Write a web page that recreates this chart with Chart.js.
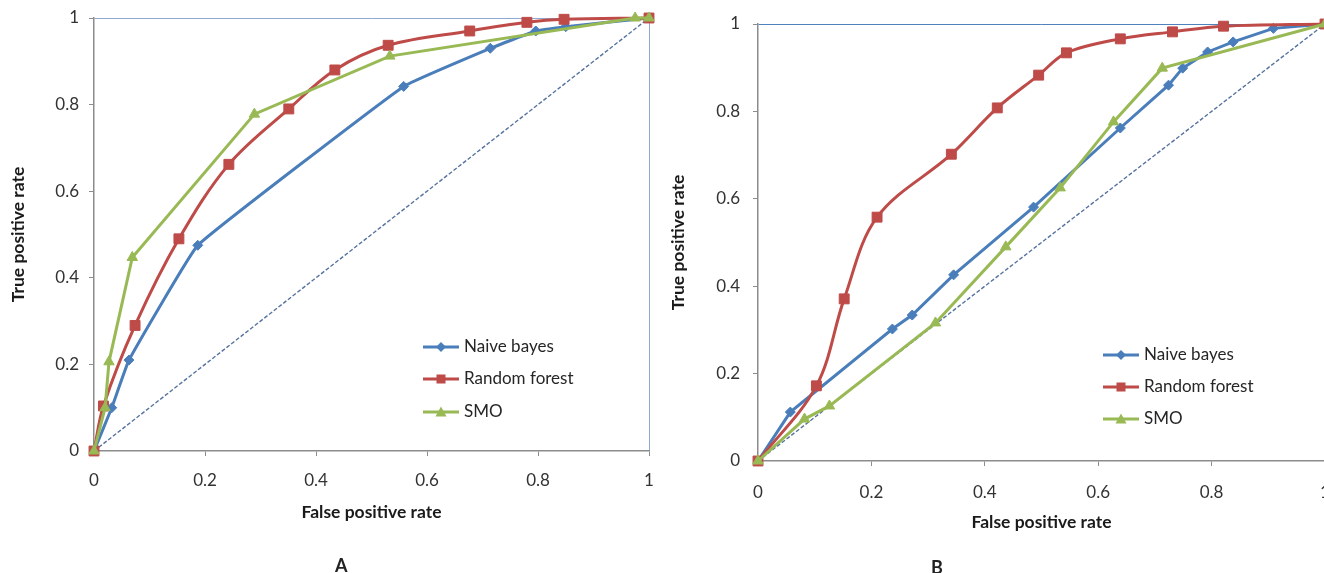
<!DOCTYPE html>
<html>
<head>
<meta charset="utf-8">
<script src="https://cdn.jsdelivr.net/npm/chart.js@4.4.1/dist/chart.umd.min.js"></script>
<style>
html, body { margin: 0; padding: 0; background: #fff; overflow: hidden; width: 1324px; height: 573px; }
canvas { position: absolute; top: 0; }
#chartA { left: 0; }
#chartB { left: 664px; }
.legend-item { position: absolute; height: 20px; line-height: 20px; font: 17px Lato, sans-serif; color: #262626; white-space: nowrap; }
.legend-item svg { vertical-align: middle; margin-right: 5px; position: relative; top: -1px; }
.panel-label { position: absolute; font: bold 18px Lato, sans-serif; color: #222; }
</style>
</head>
<body>
<canvas id="chartA" width="660" height="573"></canvas>
<canvas id="chartB" width="670" height="573"></canvas>
<div id="legendA"></div>
<div id="legendB"></div>
<div class="panel-label" style="left:335px;top:554px">A</div>
<div class="panel-label" style="left:931px;top:556px">B</div>
<script>
'use strict';

const seriesNames = ['Naive bayes', 'Random forest', 'SMO'];
const seriesColors = ['#4A7EBB', '#BE4B48', '#98B954'];
const axisTicks = [0, 0.2, 0.4, 0.6, 0.8, 1];

// panel A
const fprNaiveA = [0, 0.032, 0.063, 0.187, 0.558, 0.714, 0.796, 0.85, 1];
const tprNaiveA = [0, 0.10, 0.21, 0.475, 0.842, 0.93, 0.97, 0.98, 1];
const fprForestA = [0, 0.017, 0.074, 0.153, 0.243, 0.351, 0.434, 0.53, 0.677, 0.78, 0.847, 1];
const tprForestA = [0, 0.104, 0.29, 0.49, 0.662, 0.79, 0.88, 0.937, 0.97, 0.99, 0.997, 1];
const fprSmoA = [0, 0.02, 0.027, 0.069, 0.289, 0.533, 0.975, 1];
const tprSmoA = [0, 0.10, 0.206, 0.447, 0.778, 0.912, 1, 1];

// panel B
const fprNaiveB = [0, 0.057, 0.237, 0.272, 0.345, 0.486, 0.639, 0.724, 0.749, 0.793, 0.838, 0.909, 1];
const tprNaiveB = [0, 0.112, 0.302, 0.334, 0.426, 0.581, 0.762, 0.86, 0.899, 0.936, 0.959, 0.99, 1];
const fprForestB = [0, 0.103, 0.152, 0.21, 0.341, 0.422, 0.495, 0.544, 0.639, 0.731, 0.821, 1];
const tprForestB = [0, 0.172, 0.371, 0.558, 0.702, 0.808, 0.883, 0.934, 0.966, 0.982, 0.995, 1];
const fprSmoB = [0, 0.082, 0.126, 0.313, 0.437, 0.533, 0.627, 0.713, 1];
const tprSmoB = [0, 0.096, 0.126, 0.316, 0.49, 0.625, 0.776, 0.899, 1];

// chance line
const fprChance = [0, 1];
const tprChance = [0, 1];

function pts(xs, ys) {
    return xs.map((x, i) => ({ x: x, y: ys[i] }));
}

function rocSet(idx, data, style, tension, order) {
    const radius = [5, 7, 6][idx];
    return {
        label: seriesNames[idx],
        data: data,
        borderColor: seriesColors[idx],
        backgroundColor: seriesColors[idx],
        borderWidth: 3,
        pointStyle: style,
        pointRadius: radius,
        pointBorderWidth: 1,
        tension: tension,
        clip: false,
        order: order
    };
}

function makeChart(id, sets, box) {
    const ctx = document.getElementById(id).getContext('2d');
    const tickFont = { family: 'Lato', size: 17 };
    const titleFont = { family: 'Lato', size: 17.5, weight: 'bold' };
    new Chart(ctx, {
        type: 'line',
        data: {
            datasets: sets.concat([{
                label: 'chance',
                data: pts(fprChance, tprChance),
                borderColor: '#56739F',
                borderWidth: 1.4,
                borderDash: [4, 2],
                pointRadius: 0,
                clip: false,
                order: 9
            }])
        },
        options: {
            responsive: false,
            animation: false,
            layout: { padding: box.padding },
            plugins: { legend: { display: false }, tooltip: { enabled: false } },
            scales: {
                x: {
                    type: 'linear',
                    min: 0,
                    max: 1,
                    afterBuildTicks: s => { s.ticks = axisTicks.map(v => ({ value: v })); },
                    afterFit: s => {
                        s.height = box.xHeight;
                        s.paddingLeft = s.paddingRight = s.paddingTop = s.paddingBottom = 0;
                    },
                    grid: {
                        drawOnChartArea: true,
                        color: c => (c.tick && c.tick.value === 1) ? box.frameColor : 'rgba(0,0,0,0)',
                        tickColor: '#8C8C8C',
                        tickLength: 5
                    },
                    border: { color: '#8C8C8C', width: 1.5 },
                    ticks: { color: '#333', font: tickFont, padding: box.xPad, maxRotation: 0, callback: v => String(v) },
                    title: { display: true, text: 'False positive rate', color: '#1a1a1a', font: titleFont, padding: 0 }
                },
                y: {
                    type: 'linear',
                    min: 0,
                    max: 1,
                    afterBuildTicks: s => { s.ticks = axisTicks.map(v => ({ value: v })); },
                    afterFit: s => {
                        s.width = box.yWidth;
                        s.paddingLeft = s.paddingRight = s.paddingTop = s.paddingBottom = 0;
                    },
                    grid: {
                        drawOnChartArea: true,
                        color: c => (c.tick && c.tick.value === 1) ? box.topColor : 'rgba(0,0,0,0)',
                        tickColor: '#8C8C8C',
                        tickLength: 5
                    },
                    border: { color: '#8C8C8C', width: 1.5 },
                    ticks: { color: '#333', font: tickFont, padding: box.yPad, callback: v => String(v) },
                    title: { display: true, text: 'True positive rate', color: '#1a1a1a', font: titleFont, padding: 0 }
                }
            }
        }
    });
}

makeChart('chartA', [
    rocSet(0, pts(fprNaiveA, tprNaiveA), 'rectRot', 0.08, 2),
    rocSet(1, pts(fprForestA, tprForestA), 'rect', 0.35, 1),
    rocSet(2, pts(fprSmoA, tprSmoA), 'triangle', 0, 0)
], {
    padding: { left: 8, top: 18, right: 11, bottom: 50 },
    xHeight: 72, yWidth: 86, xPad: 14, yPad: 10,
    frameColor: '#8EA9D6', topColor: '#8EA9D6'
});

makeChart('chartB', [
    rocSet(0, pts(fprNaiveB, tprNaiveB), 'rectRot', 0, 2),
    rocSet(1, pts(fprForestB, tprForestB), 'rect', 0.35, 1),
    rocSet(2, pts(fprSmoB, tprSmoB), 'triangle', 0, 0)
], {
    padding: { left: 4, top: 24, right: 9, bottom: 40 },
    xHeight: 72, yWidth: 90, xPad: 16, yPad: 13,
    frameColor: 'rgba(0,0,0,0)', topColor: '#4F81BD'
});

// legends (html, real text)
const markerSvg = [
    '<polygon points="18,2 23,7 18,12 13,7"/>',
    '<rect x="13.5" y="2.5" width="9" height="9"/>',
    '<polygon points="18,1.5 23.5,11.5 12.5,11.5"/>'
];

function buildLegend(id, left, tops) {
    const holder = document.getElementById(id);
    seriesNames.forEach((name, i) => {
        const el = document.createElement('div');
        el.className = 'legend-item';
        el.style.left = left + 'px';
        el.style.top = (tops[i] - 10) + 'px';
        el.innerHTML = '<svg width="36" height="14" fill="' + seriesColors[i] + '">' +
            '<line x1="0" y1="7" x2="36" y2="7" stroke="' + seriesColors[i] + '" stroke-width="3"/>' +
            markerSvg[i] + '</svg>' + name;
        holder.appendChild(el);
    });
}

buildLegend('legendA', 423, [345, 377, 410]);
buildLegend('legendB', 1103, [353, 385, 417]);
</script>
</body>
</html>
